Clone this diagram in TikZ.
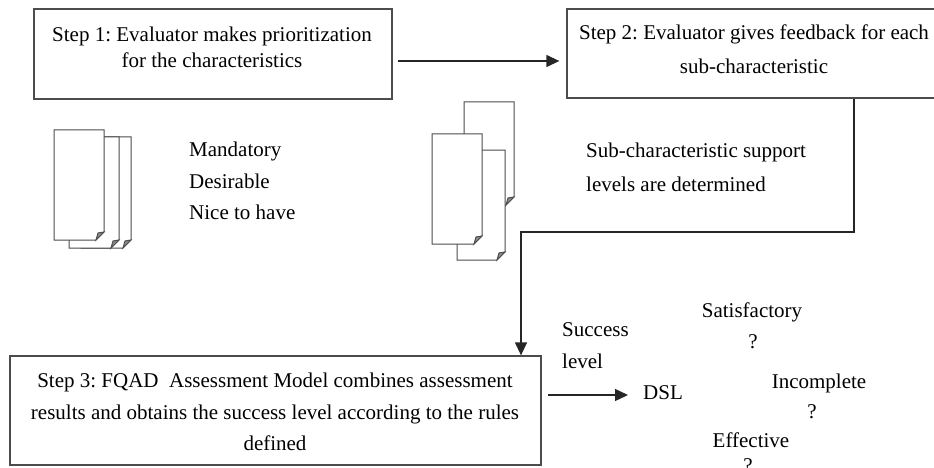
\documentclass[tikz,border=0pt]{standalone}
\usepackage{fontspec}
\setmainfont{Liberation Serif}
\usetikzlibrary{arrows.meta}
\frenchspacing

\tikzset{
  stepbox/.style={draw=black!70, line width=1.3pt, inner sep=0pt},
  steptext/.style={align=center, inner sep=0pt, font=\fontsize{21}{#1}\selectfont},
  plain/.style={inner sep=0pt, font=\fontsize{21}{25}\selectfont},
  flow/.style={draw=black!85, line width=1.3pt, -{Triangle[length=13pt,width=12pt]}},
  sheetline/.style={draw=black!70, line width=1pt}
}

% one page of a stack, folded at its lower right corner
\newcommand{\sheet}[4]{%
  \filldraw[sheetline, fill=white] (#1,#2) -- ++(#3,0) -- ++(0,#4-8) -- ++(-8,8) -- ++(-#3+8,0) -- cycle;
  \filldraw[sheetline, fill=black!45] (#1+#3,#2+#4-8) -- ++(-8,8) -- ++(2,-7) -- cycle;
}

\begin{document}
\begin{tikzpicture}[x=1pt,y=-1pt]
    \useasboundingbox (0,0) rectangle (934,468);
    % step boxes
    \node[stepbox, minimum width=358pt, minimum height=90pt] (step1) at (213,54) {};
    \node[stepbox, minimum width=374pt, minimum height=89pt] (step2) at (754,53.5) {};
    \node[stepbox, minimum width=531pt, minimum height=109pt] (step3) at (275.5,410.5) {};
    \node[steptext=26] (step1txt) at (212,47) {Step 1: Evaluator makes prioritization\\for the characteristics};
    \node[steptext=34] (step2txt) at (754,49) {Step 2: Evaluator gives feedback for each\\sub-characteristic};
    \node[steptext=31.5] (step3txt) at (275,412) {Step 3: FQAD\ \ Assessment Model combines assessment\\results and obtains the success level according to the rules\\defined};
    % page stacks
    \sheet{81}{137}{50}{111}
    \sheet{69}{137}{50}{111}
    \sheet{54}{130}{50}{110}
    \sheet{464}{102}{50}{103}
    \sheet{457}{150}{48}{110}
    \sheet{432}{134}{50}{110}
    \node[plain, align=left, font=\fontsize{21}{31.5}\selectfont, anchor=west] (prio) at (189,181) {Mandatory\\Desirable\\Nice to have};
    \node[plain, align=left, font=\fontsize{21}{34}\selectfont, anchor=west] (support) at (586,167) {Sub-characteristic support\\levels are determined};
    % connectors
    \coordinate (a1) at (398,61);
    \draw[flow, shorten >=7pt] (a1) -- (a1 -| step2.west);
    \coordinate (bend) at (854,232);
    \coordinate (drop) at (521,232);
    \draw[flow] (bend |- step2.south) -- (bend) -- (drop) -- (drop |- step3.north);
    % success level
    \node[plain, align=left, font=\fontsize{21}{32}\selectfont, anchor=west] (level) at (562,346) {Success\\level};
    \node[plain, anchor=base west] (dsl) at (643,399) {DSL};
    \coordinate (c1) at (548,395);
    \draw[flow, shorten >=15pt] (c1) -- (c1 -| dsl.west);
    \node[plain, anchor=base] (sat) at (752,317) {Satisfactory};
    \node[plain, anchor=base] (satq) at (753,348) {?};
    \node[plain, anchor=base] (inc) at (819,388) {Incomplete};
    \node[plain, anchor=base] (incq) at (812,418) {?};
    \node[plain, anchor=base] (eff) at (751,447) {Effective};
    \node[plain, anchor=base] (effq) at (748,472) {?};
\end{tikzpicture}
\end{document}
